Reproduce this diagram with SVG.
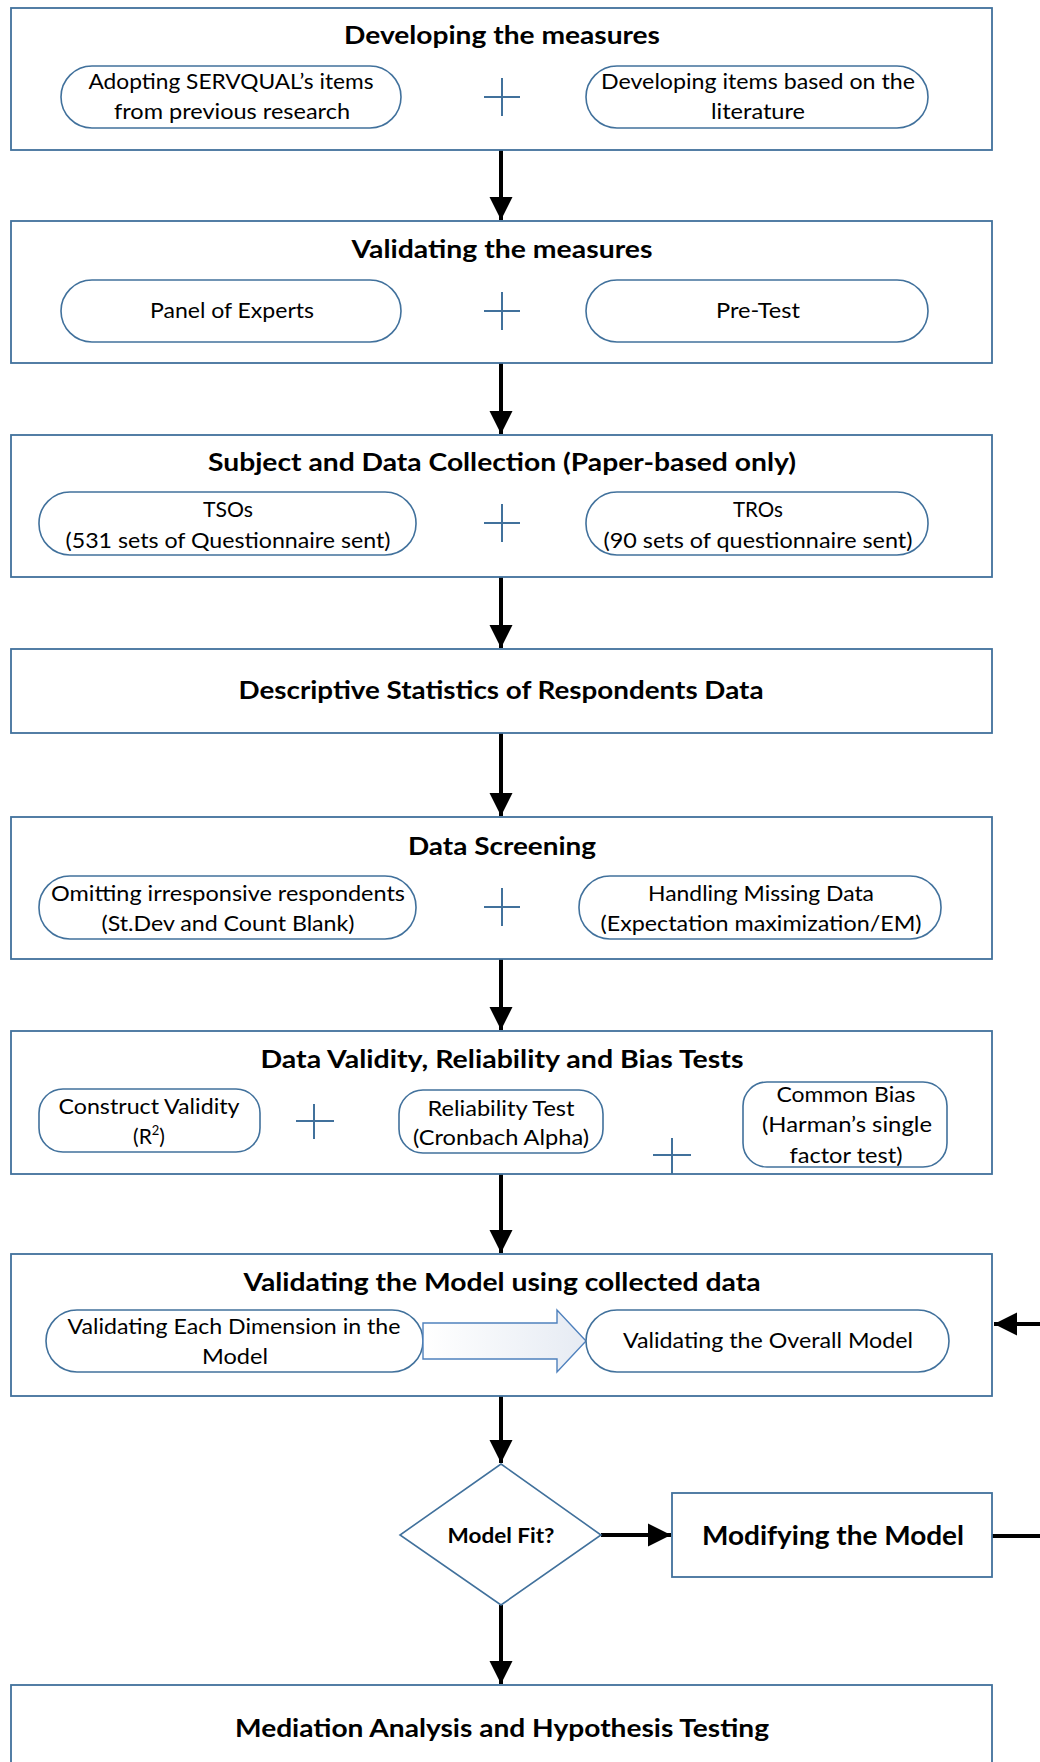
<svg xmlns="http://www.w3.org/2000/svg" width="1040" height="1762" viewBox="0 0 1040 1762">
  <style>
    .box { fill: #ffffff; stroke: #41719C; stroke-width: 1.8; }
    .pill { fill: #ffffff; stroke: #41719C; stroke-width: 1.6; }
    .plus { stroke: #41719C; stroke-width: 2; fill: none; }
    .title { font-family: Lato, "Open Sans", sans-serif; font-weight: bold; font-size: 24px; fill: #000; text-anchor: middle; }
    .lbl { font-family: Lato, "Open Sans", sans-serif; font-size: 21px; fill: #000; text-anchor: middle; }
    .conn { stroke: #000; stroke-width: 4; fill: none; marker-end: url(#head); }
  </style>
  <defs>
    <marker id="head" viewBox="0 0 10 10" refX="10" refY="5" markerWidth="5.8" markerHeight="5.8" orient="auto" markerUnits="strokeWidth">
      <path d="M0,0 L10,5 L0,10 z" fill="#000"/>
    </marker>
    <linearGradient id="blockFill" x1="0" y1="0" x2="1" y2="0">
      <stop offset="0" stop-color="#ffffff"/>
      <stop offset="1" stop-color="#e6ebf3"/>
    </linearGradient>
  </defs>

  <rect width="1040" height="1762" fill="#ffffff"/>

  <!-- Connectors -->
  <g id="connectors">
    <line class="conn" x1="501" y1="150" x2="501" y2="220"/>
    <line class="conn" x1="501" y1="363" x2="501" y2="434"/>
    <line class="conn" x1="501" y1="577" x2="501" y2="648"/>
    <line class="conn" x1="501" y1="733" x2="501" y2="816"/>
    <line class="conn" x1="501" y1="959" x2="501" y2="1030"/>
    <line class="conn" x1="501" y1="1174" x2="501" y2="1253"/>
    <line class="conn" x1="501" y1="1396" x2="501" y2="1463"/>
    <line class="conn" x1="601" y1="1535" x2="671" y2="1535"/>
    <line class="conn" x1="501" y1="1605" x2="501" y2="1684"/>
    <!-- loop back from "Modifying the Model" to the validation block -->
    <polyline class="conn" points="992,1536 1060,1536 1060,1324 994,1324"/>
  </g>

  <!-- Developing the measures -->
  <g id="develop">
    <rect class="box" x="11" y="8" width="981" height="142"/>
    <text class="title" x="502" y="44" textLength="316" lengthAdjust="spacingAndGlyphs">Developing the measures</text>
    <rect class="pill" x="61" y="66" width="340" height="62" rx="31"/>
    <text class="lbl" x="231" y="89" textLength="285" lengthAdjust="spacingAndGlyphs">Adopting SERVQUAL’s items</text>
    <text class="lbl" x="232" y="119" textLength="236" lengthAdjust="spacingAndGlyphs">from previous research</text>
    <path class="plus" d="M484,97 H520 M502,78 V116"/>
    <rect class="pill" x="586" y="66" width="342" height="62" rx="31"/>
    <text class="lbl" x="758" y="89" textLength="314" lengthAdjust="spacingAndGlyphs">Developing items based on the</text>
    <text class="lbl" x="758" y="119" textLength="94" lengthAdjust="spacingAndGlyphs">literature</text>
  </g>

  <!-- Validating the measures -->
  <g id="validate-measures">
    <rect class="box" x="11" y="221" width="981" height="142"/>
    <text class="title" x="502" y="258" textLength="301" lengthAdjust="spacingAndGlyphs">Validating the measures</text>
    <rect class="pill" x="61" y="280" width="340" height="62" rx="31"/>
    <text class="lbl" x="232" y="318" textLength="164" lengthAdjust="spacingAndGlyphs">Panel of Experts</text>
    <path class="plus" d="M484,311 H520 M502,292 V330"/>
    <rect class="pill" x="586" y="280" width="342" height="62" rx="31"/>
    <text class="lbl" x="758" y="318" textLength="84" lengthAdjust="spacingAndGlyphs">Pre-Test</text>
  </g>

  <!-- Subject and Data Collection -->
  <g id="collection">
    <rect class="box" x="11" y="435" width="981" height="142"/>
    <text class="title" x="502" y="471" textLength="588" lengthAdjust="spacingAndGlyphs">Subject and Data Collection (Paper-based only)</text>
    <rect class="pill" x="39" y="492" width="377" height="63" rx="31"/>
    <text class="lbl" x="228" y="517" textLength="50" lengthAdjust="spacingAndGlyphs">TSOs</text>
    <text class="lbl" x="228" y="548" textLength="325" lengthAdjust="spacingAndGlyphs">(531 sets of Questionnaire sent)</text>
    <path class="plus" d="M484,523 H520 M502,504 V542"/>
    <rect class="pill" x="586" y="492" width="342" height="63" rx="31"/>
    <text class="lbl" x="758" y="517" textLength="50" lengthAdjust="spacingAndGlyphs">TROs</text>
    <text class="lbl" x="758" y="548" textLength="309" lengthAdjust="spacingAndGlyphs">(90 sets of questionnaire sent)</text>
  </g>

  <!-- Descriptive statistics -->
  <g id="descriptive">
    <rect class="box" x="11" y="649" width="981" height="84"/>
    <text class="title" x="501" y="699" textLength="525" lengthAdjust="spacingAndGlyphs">Descriptive Statistics of Respondents Data</text>
  </g>

  <!-- Data Screening -->
  <g id="screening">
    <rect class="box" x="11" y="817" width="981" height="142"/>
    <text class="title" x="502" y="855" textLength="188" lengthAdjust="spacingAndGlyphs">Data Screening</text>
    <rect class="pill" x="39" y="876" width="377" height="63" rx="31"/>
    <text class="lbl" x="228" y="901" textLength="354" lengthAdjust="spacingAndGlyphs">Omitting irresponsive respondents</text>
    <text class="lbl" x="228" y="931" textLength="253" lengthAdjust="spacingAndGlyphs">(St.Dev and Count Blank)</text>
    <path class="plus" d="M484,907 H520 M502,888 V926"/>
    <rect class="pill" x="579" y="876" width="362" height="63" rx="31"/>
    <text class="lbl" x="761" y="901" textLength="226" lengthAdjust="spacingAndGlyphs">Handling Missing Data</text>
    <text class="lbl" x="761" y="931" textLength="321" lengthAdjust="spacingAndGlyphs">(Expectation maximization/EM)</text>
  </g>

  <!-- Data Validity, Reliability and Bias Tests -->
  <g id="validity">
    <rect class="box" x="11" y="1031" width="981" height="143"/>
    <text class="title" x="502" y="1068" textLength="483" lengthAdjust="spacingAndGlyphs">Data Validity, Reliability and Bias Tests</text>
    <rect class="pill" x="39" y="1089" width="221" height="63" rx="24"/>
    <text class="lbl" x="149" y="1114" textLength="181" lengthAdjust="spacingAndGlyphs">Construct Validity</text>
    <text class="lbl" x="149" y="1144">(R<tspan font-size="13" dy="-9">2</tspan><tspan dy="9">)</tspan></text>
    <path class="plus" d="M296,1121 H334 M314,1104 V1139"/>
    <rect class="pill" x="399" y="1090" width="204" height="63" rx="24"/>
    <text class="lbl" x="501" y="1116" textLength="147" lengthAdjust="spacingAndGlyphs">Reliability Test</text>
    <text class="lbl" x="501" y="1145" textLength="176" lengthAdjust="spacingAndGlyphs">(Cronbach Alpha)</text>
    <path class="plus" d="M653,1155 H691 M672,1138 V1174"/>
    <rect class="pill" x="743" y="1082" width="204" height="85" rx="24"/>
    <text class="lbl" x="846" y="1102" textLength="139" lengthAdjust="spacingAndGlyphs">Common Bias</text>
    <text class="lbl" x="847" y="1132" textLength="170" lengthAdjust="spacingAndGlyphs">(Harman’s single</text>
    <text class="lbl" x="846" y="1163" textLength="113" lengthAdjust="spacingAndGlyphs">factor test)</text>
  </g>

  <!-- Validating the Model using collected data -->
  <g id="validate-model">
    <rect class="box" x="11" y="1254" width="981" height="142"/>
    <text class="title" x="502" y="1291" textLength="517" lengthAdjust="spacingAndGlyphs">Validating the Model using collected data</text>
    <rect class="pill" x="46" y="1310" width="377" height="62" rx="31"/>
    <text class="lbl" x="234" y="1334" textLength="333" lengthAdjust="spacingAndGlyphs">Validating Each Dimension in the</text>
    <text class="lbl" x="235" y="1364" textLength="66" lengthAdjust="spacingAndGlyphs">Model</text>
    <path d="M423,1323 H557 V1310 L586,1341 L557,1372 V1359 H423 z" fill="url(#blockFill)" stroke="#4F81BD" stroke-width="1.4"/>
    <rect class="pill" x="586" y="1310" width="363" height="62" rx="31"/>
    <text class="lbl" x="768" y="1348" textLength="290" lengthAdjust="spacingAndGlyphs">Validating the Overall Model</text>
  </g>

  <!-- Model Fit? decision -->
  <g id="model-fit">
    <polygon points="501,1464 601,1535 501,1605 400,1535" fill="#ffffff" stroke="#41719C" stroke-width="1.6"/>
    <text x="501" y="1543" font-family="Lato, 'Open Sans', sans-serif" font-weight="bold" font-size="20" text-anchor="middle" textLength="107" lengthAdjust="spacingAndGlyphs">Model Fit?</text>
  </g>

  <!-- Modifying the Model -->
  <g id="modify">
    <rect class="box" x="672" y="1493" width="320" height="84"/>
    <text x="833" y="1545" font-family="Lato, 'Open Sans', sans-serif" font-weight="bold" font-size="27" text-anchor="middle" textLength="262" lengthAdjust="spacingAndGlyphs">Modifying the Model</text>
  </g>

  <!-- Mediation Analysis and Hypothesis Testing -->
  <g id="mediation">
    <rect class="box" x="11" y="1685" width="981" height="100"/>
    <text class="title" x="502" y="1737" textLength="534" lengthAdjust="spacingAndGlyphs">Mediation Analysis and Hypothesis Testing</text>
  </g>
</svg>
